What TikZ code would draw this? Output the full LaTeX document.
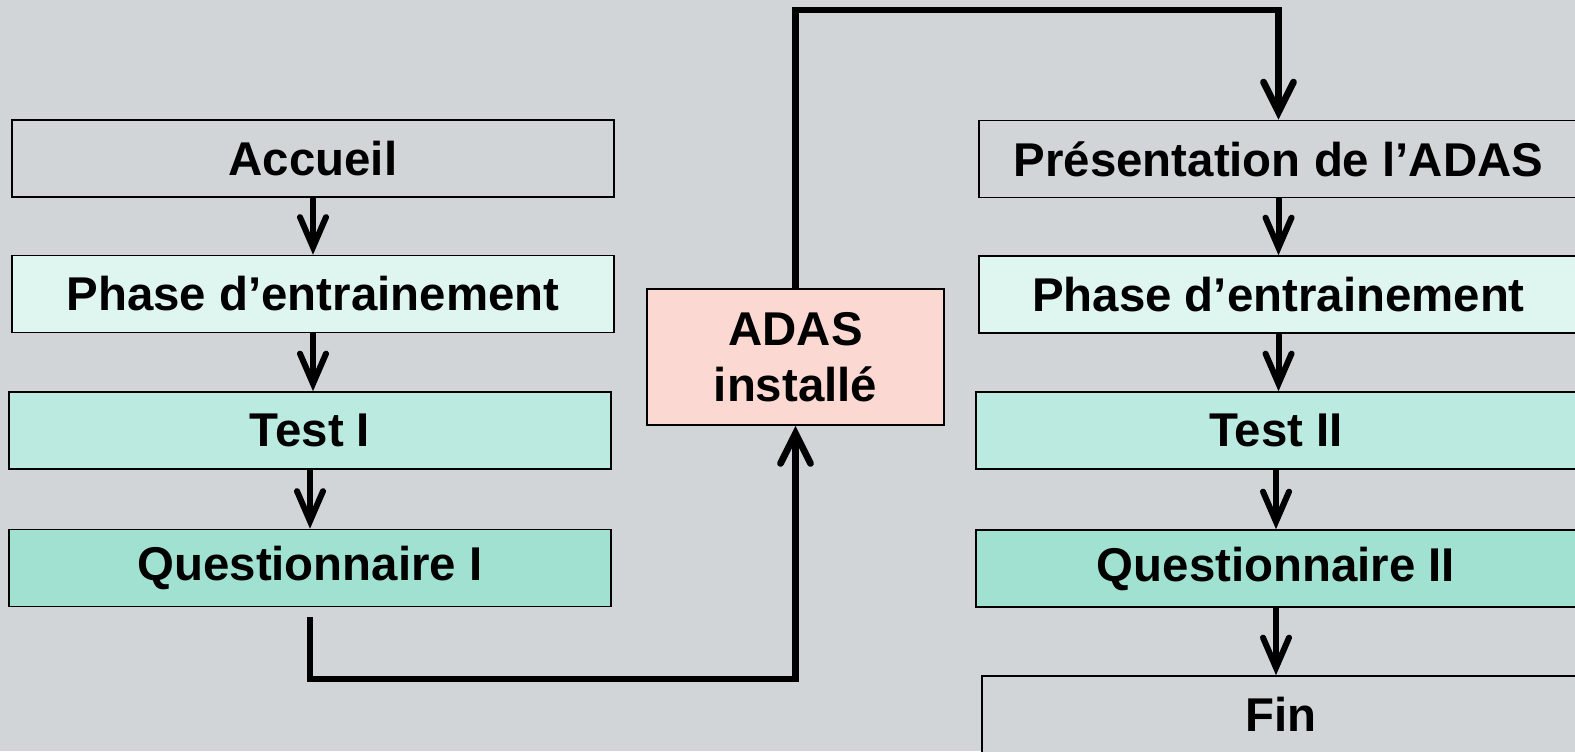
\documentclass[tikz,border=0pt]{standalone}
\usepackage{fontspec}
\setmainfont{Liberation Sans}
\usetikzlibrary{arrows.meta}
\definecolor{bg}{RGB}{209,213,216}
\definecolor{cphase}{RGB}{223,245,240}
\definecolor{ctest}{RGB}{187,235,224}
\definecolor{cquest}{RGB}{160,225,210}
\definecolor{cadas}{RGB}{252,216,211}
\tikzset{
  box/.style={draw=black, line width=0.8pt, minimum width=301pt, minimum height=38.5pt, inner sep=0pt,
    font=\fontsize{23.7}{28}\selectfont\bfseries, align=center},
  flow/.style={line width=3pt, -{Straight Barb[length=15pt,width=13pt,line cap=round]}},
  bigflow/.style={line width=3.4pt, -{Straight Barb[length=15pt,width=15pt,line cap=round]}}
}
\begin{document}
\begin{tikzpicture}[x=0.5pt,y=-0.5pt]
\useasboundingbox (0,0) rectangle (1575,751);
\fill[bg] (0,0) rectangle (1575,751);
% left column
\node[box, fill=bg] (acc) at (313,158.5) {Accueil};
\node[box, fill=cphase] (phl) at (313,294) {Phase d’entrainement};
\node[box, fill=ctest] (t1) at (310,430.5) {\raisebox{-1pt}{Test I}};
\node[box, fill=cquest] (q1) at (310,568) {\raisebox{-1.5pt}{Questionnaire I}};
% middle
\node[box, fill=cadas, minimum width=148.5pt, minimum height=68pt] (adas) at (795.5,357) {ADAS\\installé};
% right column
\node[box, fill=bg, minimum width=299.5pt] (pres) at (1278.5,159) {Présentation de l’ADAS};
\node[box, fill=cphase, minimum width=299.5pt] (phr) at (1278.5,294.5) {Phase d’entrainement};
\node[box, fill=ctest, minimum width=300pt] (t2) at (1276,430.5) {\raisebox{-1pt}{Test II}};
\node[box, fill=cquest, minimum width=300pt] (q2) at (1276,568.5) {\raisebox{-1.5pt}{Questionnaire II}};
\node[box, fill=bg, minimum width=299pt] (fin) at (1281,714.5) {Fin};
% arrows
\draw[flow] (acc.south) -- (phl.north);
\draw[flow] (phl.south) -- (t1.north -| phl.south);
\draw[flow] (t1.south) -- (q1.north);
\draw[flow] (pres.south) -- (phr.north);
\draw[flow] (phr.south) -- (t2.north -| phr.south);
\draw[flow] (t2.south) -- (q2.north);
\draw[flow] (q2.south) -- (fin.north -| q2.south);
% long connectors
\coordinate (q1out) at ([yshift=-5pt]q1.south);
\coordinate (bot) at (0,679);
\coordinate (top) at (0,10);
\draw[bigflow, line cap=butt] (q1out) -- (q1out |- bot) -| (adas.south);
\draw[bigflow] (adas.north) -- (adas.north |- top) -| (pres.north);
\end{tikzpicture}
\end{document}
